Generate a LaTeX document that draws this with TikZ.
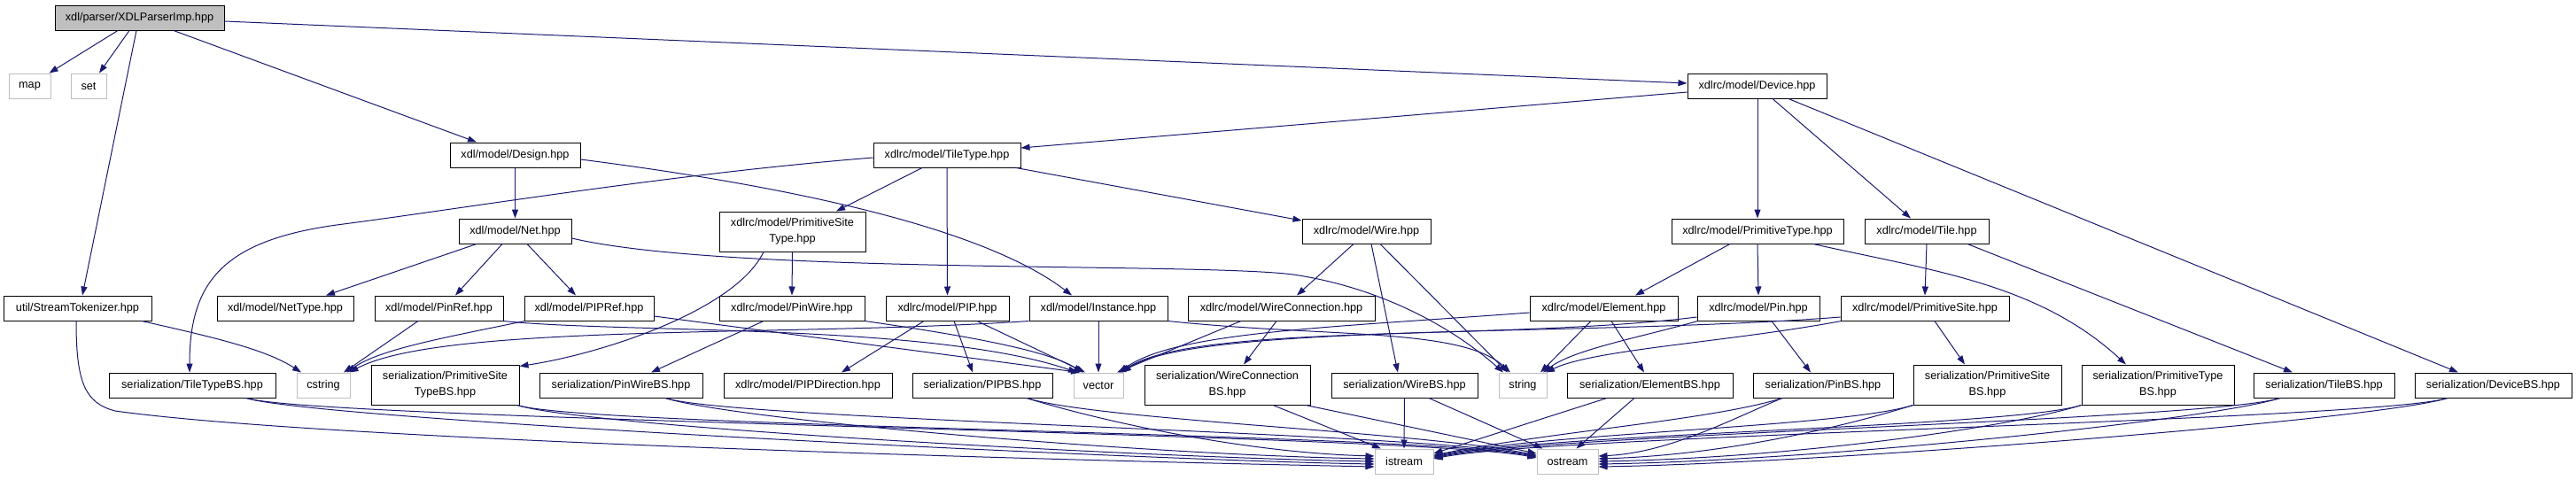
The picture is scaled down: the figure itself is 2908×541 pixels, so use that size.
\documentclass[tikz,border=0pt]{standalone}
\usepackage{fontspec}
\setmainfont{Liberation Sans}
\usetikzlibrary{arrows.meta}
\definecolor{edgeblue}{HTML}{191970}
\definecolor{extgray}{HTML}{BFBFBF}
\begin{document}
\begin{tikzpicture}[x=1pt,y=-1pt,
  nd/.style={draw=black, line width=1pt, fill=white, inner sep=0pt, minimum height=28pt, align=center, font=\fontsize{12.7}{18}\selectfont},
  two/.style={minimum height=45pt},
  ext/.style={nd, draw=extgray},
  rootnd/.style={nd, fill=extgray},
  dep/.style={draw=edgeblue, line width=1pt, -{Triangle[length=10pt,width=7pt]}},
]
\useasboundingbox (0,0) rectangle (2908,541);
% rank 0-2
\node[rootnd, minimum width=191pt] (root) at (157.5,20) {xdl/parser/XDLParserImp.hpp};
\node[ext, minimum width=47pt] (map) at (33.5,97) {map};
\node[ext, minimum width=40pt] (set) at (100,97) {set};
\node[nd, minimum width=157pt] (device) at (1983.5,97) {xdlrc/model/Device.hpp};
\node[nd, minimum width=147pt] (design) at (581.5,175) {xdl/model/Design.hpp};
\node[nd, minimum width=166pt] (tiletype) at (1069,175) {xdlrc/model/TileType.hpp};
% rank 3
\node[nd, minimum width=127pt] (net) at (581.5,261) {xdl/model/Net.hpp};
\node[nd, two, minimum width=165pt] (pst) at (894.5,261.5) {xdlrc/model/PrimitiveSite\\Type.hpp};
\node[nd, minimum width=145pt] (wire) at (1542.5,261) {xdlrc/model/Wire.hpp};
\node[nd, minimum width=194pt] (ptype) at (1984,261) {xdlrc/model/PrimitiveType.hpp};
\node[nd, minimum width=140pt] (tile) at (2175,261) {xdlrc/model/Tile.hpp};
% rank 4
\node[nd, minimum width=167pt] (stok) at (87.5,348) {util/StreamTokenizer.hpp};
\node[nd, minimum width=154pt] (nettype) at (322,348) {xdl/model/NetType.hpp};
\node[nd, minimum width=145pt] (pinref) at (495.5,348) {xdl/model/PinRef.hpp};
\node[nd, minimum width=146pt] (pipref) at (665,348) {xdl/model/PIPRef.hpp};
\node[nd, minimum width=164pt] (pinwire) at (894,348) {xdlrc/model/PinWire.hpp};
\node[nd, minimum width=139pt] (pip) at (1069.5,348) {xdlrc/model/PIP.hpp};
\node[nd, minimum width=156pt] (instance) at (1240,348) {xdl/model/Instance.hpp};
\node[nd, minimum width=211pt] (wireconn) at (1446.5,348) {xdlrc/model/WireConnection.hpp};
\node[nd, minimum width=167pt] (element) at (1810.5,348) {xdlrc/model/Element.hpp};
\node[nd, minimum width=138pt] (pin) at (1985,348) {xdlrc/model/Pin.hpp};
\node[nd, minimum width=190pt] (psite) at (2173,348) {xdlrc/model/PrimitiveSite.hpp};
% rank 5
\node[nd, minimum width=188pt] (ttbs) at (217,435) {serialization/TileTypeBS.hpp};
\node[ext, minimum width=60pt] (cstring) at (365,435) {cstring};
\node[nd, two, minimum width=167pt] (pstbs) at (502.5,434.5) {serialization/PrimitiveSite\\TypeBS.hpp};
\node[nd, minimum width=184pt] (pwbs) at (701,435) {serialization/PinWireBS.hpp};
\node[nd, minimum width=190pt] (pipdir) at (912,435) {xdlrc/model/PIPDirection.hpp};
\node[nd, minimum width=158pt] (pipbs) at (1109,435) {serialization/PIPBS.hpp};
\node[ext, minimum width=56pt] (vector) at (1240,435) {vector};
\node[nd, two, minimum width=187pt] (wcbs) at (1385.5,434.5) {serialization/WireConnection\\BS.hpp};
\node[nd, minimum width=165pt] (wirebs) at (1585.5,435) {serialization/WireBS.hpp};
\node[ext, minimum width=54pt] (string) at (1719,435) {string};
\node[nd, minimum width=187pt] (elbs) at (1862.5,435) {serialization/ElementBS.hpp};
\node[nd, minimum width=158pt] (pinbs) at (2058,435) {serialization/PinBS.hpp};
\node[nd, two, minimum width=167pt] (psbs) at (2243.5,434.5) {serialization/PrimitiveSite\\BS.hpp};
\node[nd, two, minimum width=172pt] (ptbs) at (2436,434.5) {serialization/PrimitiveType\\BS.hpp};
\node[nd, minimum width=159pt] (tilebs) at (2623.5,435) {serialization/TileBS.hpp};
\node[nd, minimum width=177pt] (devbs) at (2814.5,435) {serialization/DeviceBS.hpp};
% rank 6
\node[ext, minimum width=66pt] (istream) at (1585,521) {istream};
\node[ext, minimum width=69pt] (ostream) at (1769.5,521) {ostream};

% edges from root
\draw[dep] ([xshift=-24.5pt]root.south) -- ([xshift=-2pt]map.north east);
\draw[dep] ([xshift=-11.5pt]root.south) -- ([xshift=12pt]set.north);
\draw[dep] ([xshift=-3.5pt]root.south) -- ([xshift=5.5pt]stok.north);
\draw[dep] ([xshift=38.5pt]root.south) -- ([xshift=-43.5pt]design.north);
\draw[dep] ([yshift=-4pt]root.east) -- ([yshift=3pt]device.west);
% Device
\draw[dep] ([yshift=-7pt]device.west) -- ([yshift=8pt]tiletype.east);
\draw[dep] ([xshift=0.5pt]device.south) -- (ptype.north);
\draw[dep] ([xshift=17.5pt]device.south) -- ([xshift=-18pt]tile.north);
\draw[dep] ([xshift=35.5pt]device.south) -- ([xshift=-39.5pt]devbs.north);
% Design
\draw[dep] (design.south) -- (net.north);
\draw[dep] ([yshift=-5pt]design.east) .. controls +(195,25) and +(-110,-84) .. ([xshift=-30pt]instance.north);
% TileType
\draw[dep] ([yshift=-3pt]tiletype.west) .. controls (760,196) and (520,236) .. (380,254) .. controls (250,272) and (214,320) .. ([xshift=-3pt]ttbs.north);
\draw[dep] ([xshift=-28pt]tiletype.south) -- ([xshift=49.5pt]pst.north);
\draw[dep] (tiletype.south) -- (pip.north);
\draw[dep] ([xshift=78pt]tiletype.south) -- ([yshift=12pt]wire.west);
% Net
\draw[dep] ([xshift=-43.5pt]net.south) -- ([xshift=46pt]nettype.north);
\draw[dep] ([xshift=-14.5pt]net.south) -- ([xshift=18.5pt]pinref.north);
\draw[dep] ([xshift=13.5pt]net.south) -- ([xshift=-15pt]pipref.north);
\draw[dep] ([yshift=-8pt]net.east) .. controls (820,310) and (1350,296) .. (1460,310) .. controls (1560,325) and (1640,370) .. ([xshift=-22pt]string.north);
% PrimitiveSiteType
\draw[dep] (pst.south) -- (pinwire.north);
\draw[dep] ([xshift=-32.5pt]pst.south) .. controls +(-32,66) and +(93,-14) .. ([yshift=-2pt]pstbs.north east);
% Wire
\draw[dep] ([xshift=-14.5pt]wire.south) -- ([xshift=17.5pt]wireconn.north);
\draw[dep] ([xshift=5.5pt]wire.south) -- ([xshift=-7.5pt]wirebs.north);
\draw[dep] ([xshift=15.5pt]wire.south) -- ([xshift=-17pt]string.north);
% PrimitiveType
\draw[dep] ([xshift=-31pt]ptype.south) -- ([xshift=35.5pt]element.north);
\draw[dep] (ptype.south) -- (pin.north);
\draw[dep] ([xshift=63pt]ptype.south) .. controls +(133,30) and +(-100,-92) .. ([xshift=-36pt]ptbs.north);
% Tile
\draw[dep] (tile.south) -- (psite.north);
\draw[dep] ([xshift=46pt]tile.south) -- ([xshift=-35.5pt]tilebs.north);
% StreamTokenizer
\draw[dep] ([xshift=72.5pt]stok.south) .. controls +(80,18) and +(-40,-26) .. ([xshift=-25pt]cstring.north);
\draw[dep] ([xshift=-1.5pt]stok.south) .. controls (86,430) and (95,455) .. (130,464) .. controls (350,495) and (1100,518) .. ([yshift=-6pt]istream.west);
% PinRef, PIPRef
\draw[dep] ([xshift=-23.5pt]pinref.south) -- ([xshift=23pt]cstring.north);
\draw[dep] (pinref.south east) .. controls +(131,14) and +(-164,-56) .. ([xshift=-24pt]vector.north);
\draw[dep] ([xshift=1pt]pipref.south west) .. controls +(-92,19) and +(37,-26) .. ([xshift=-4pt]cstring.north east);
\draw[dep] ([yshift=-9pt]pipref.east) -- ([xshift=-21pt]vector.north);
% Instance
\draw[dep] (instance.south west) .. controls +(-262,18) and +(104,-56) .. ([xshift=-1pt]cstring.north east);
\draw[dep] (instance.south) -- (vector.north);
\draw[dep] (instance.south east) .. controls +(182,19) and +(-55,-51) .. ([xshift=-14pt]string.north);
% PinWire, PIP
\draw[dep] ([xshift=-32pt]pinwire.south) -- ([xshift=34pt]pwbs.north);
\draw[dep] (pinwire.south east) .. controls +(103,15) and +(-41,-26) .. ([xshift=-18pt]vector.north);
\draw[dep] ([xshift=-26.5pt]pip.south) -- ([xshift=38pt]pipdir.north);
\draw[dep] ([xshift=7.5pt]pip.south) -- ([xshift=-11pt]pipbs.north);
\draw[dep] ([xshift=33.5pt]pip.south) -- ([xshift=-15pt]vector.north);
% WireConnection
\draw[dep] ([xshift=-45.5pt]wireconn.south) -- ([xshift=21pt]vector.north);
\draw[dep] ([xshift=-5.5pt]wireconn.south) -- ([xshift=18.5pt]wcbs.north);
% Element, Pin, PrimitiveSite
\draw[dep] ([yshift=-5pt]element.west) .. controls +(-227,17) and +(65,-46) .. ([xshift=23pt]vector.north);
\draw[dep] ([xshift=-14.5pt]element.south) -- ([xshift=20pt]string.north);
\draw[dep] ([xshift=8.5pt]element.south) -- ([xshift=-6.5pt]elbs.north);
\draw[dep] ([xshift=1pt]pin.south west) .. controls +(-67,19) and +(35,-26) .. ([xshift=23pt]string.north);
\draw[dep] ([yshift=-10pt]pin.west) .. controls +(-216,27) and +(84,-56) .. ([xshift=25pt]vector.north);
\draw[dep] ([xshift=15pt]pin.south) -- ([xshift=-14pt]pinbs.north);
\draw[dep] ([xshift=1pt]psite.south west) .. controls +(-129,24) and +(54,-26) .. ([xshift=26pt]string.north);
\draw[dep] ([yshift=-10pt]psite.west) .. controls +(-278,22) and +(82,-56) .. ([xshift=27pt]vector.north);
\draw[dep] ([xshift=11pt]psite.south) -- ([xshift=-25.5pt]psbs.north);
% serialization -> istream
\draw[dep] ([xshift=61pt]ttbs.south) .. controls +(80,25) and +(-250,-4) .. ([yshift=-3pt]istream.west);
\draw[dep] ([xshift=81.5pt]pstbs.south) .. controls +(80,25) and +(-250,-4) .. (istream.west);
\draw[dep] ([xshift=50pt]pwbs.south) .. controls +(80,25) and +(-250,-4) .. ([yshift=3pt]istream.west);
\draw[dep] ([xshift=50pt]pipbs.south) .. controls +(80,25) and +(-150,-4) .. ([yshift=6pt]istream.west);
\draw[dep] ([xshift=51.5pt]wcbs.south) -- ([xshift=-26pt]istream.north);
\draw[dep] (wirebs.south) -- (istream.north);
\draw[dep] ([xshift=-48.5pt]elbs.south) -- ([yshift=9pt]istream.east);
\draw[dep] ([xshift=-46pt]pinbs.south) .. controls +(-80,25) and +(135,-27) .. ([yshift=7pt]istream.east);
\draw[dep] (psbs.south west) .. controls +(-80,25) and +(135,-27) .. ([yshift=6pt]istream.east);
\draw[dep] (ptbs.south west) .. controls +(-80,25) and +(135,-27) .. ([yshift=5pt]istream.east);
\draw[dep] ([xshift=-49.5pt]tilebs.south) .. controls +(-80,25) and +(135,-27) .. ([yshift=4pt]istream.east);
\draw[dep] ([xshift=-51.5pt]devbs.south) .. controls +(-80,25) and +(135,-27) .. ([yshift=3pt]istream.east);
% serialization -> ostream
\draw[dep] ([xshift=61pt]ttbs.south) .. controls +(80,25) and +(-135,-27) .. ([yshift=4pt]ostream.west);
\draw[dep] ([xshift=81.5pt]pstbs.south) .. controls +(80,25) and +(-135,-27) .. ([yshift=5pt]ostream.west);
\draw[dep] ([xshift=50pt]pwbs.south) .. controls +(80,25) and +(-135,-27) .. ([yshift=6pt]ostream.west);
\draw[dep] ([xshift=50pt]pipbs.south) .. controls +(80,25) and +(-135,-27) .. ([yshift=7pt]ostream.west);
\draw[dep] ([xshift=88.5pt]wcbs.south) -- ([yshift=9pt]ostream.west);
\draw[dep] ([xshift=27.5pt]wirebs.south) -- ([xshift=-28pt]ostream.north);
\draw[dep] ([xshift=-17.5pt]elbs.south) -- ([xshift=10pt]ostream.north);
\draw[dep] ([xshift=-46pt]pinbs.south) .. controls +(-60,25) and +(80,-4) .. ([yshift=6pt]ostream.east);
\draw[dep] (psbs.south west) .. controls +(-80,25) and +(140,-4) .. ([yshift=3pt]ostream.east);
\draw[dep] (ptbs.south west) .. controls +(-80,25) and +(220,-4) .. (ostream.east);
\draw[dep] ([xshift=-49.5pt]tilebs.south) .. controls +(-80,25) and +(250,-4) .. ([yshift=-3pt]ostream.east);
\draw[dep] ([xshift=-51.5pt]devbs.south) .. controls +(-80,25) and +(250,-4) .. ([yshift=-6pt]ostream.east);
\end{tikzpicture}
\end{document}
